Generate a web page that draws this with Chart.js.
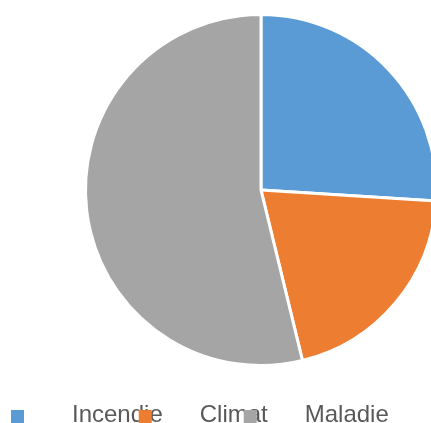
<!DOCTYPE html>
<html>
<head>
<meta charset="utf-8">
<script src="https://cdn.jsdelivr.net/npm/chart.js@4"></script>
<style>
  html, body { margin: 0; padding: 0; background: #fff; overflow: hidden; }
  #wrap { width: 431px; height: 423px; overflow: hidden; }
  #inner { width: 450px; height: 423px; position: relative; }
</style>
</head>
<body>
<div id="wrap"><div id="inner"><canvas id="myChart"></canvas></div></div>
<script>
var labels = ['Incendie', 'Climat', 'Maladie'];
var values = [26, 20.2, 53.8];
var colors = ['#5B9BD5', '#ED7D31', '#A5A5A5'];

// legend drawn by hand: square, then the label further right
var bottomLegend = {
  id: 'bottomLegend',
  afterDraw: function(chart) {
    var c = chart.ctx;
    c.save();
    c.font = '24px "Liberation Sans", Arial, sans-serif';
    c.textBaseline = 'alphabetic';
    var x = 11;
    chart.data.labels.forEach(function(lab, i) {
      c.fillStyle = chart.data.datasets[0].backgroundColor[i];
      c.fillRect(x, 410, 13, 13);
      c.fillStyle = '#595959';
      var tx = x + 61;
      c.fillText(lab, tx, 422);
      x = tx + c.measureText(lab).width - 24;
    });
    c.restore();
  }
};

var ctx = document.getElementById('myChart').getContext('2d');
var myChart = new Chart(ctx, {
  type: 'pie',
  data: {
    labels: labels,
    datasets: [{
      data: values,
      backgroundColor: colors,
      borderColor: '#ffffff',
      borderWidth: 3
    }]
  },
  options: {
    responsive: true,
    maintainAspectRatio: false,
    animation: false,
    layout: {
      padding: { left: 84, top: 13, right: 12, bottom: 56 }
    },
    plugins: {
      legend: { display: false },
      tooltip: { enabled: false }
    }
  },
  plugins: [bottomLegend]
});
</script>
</body>
</html>
